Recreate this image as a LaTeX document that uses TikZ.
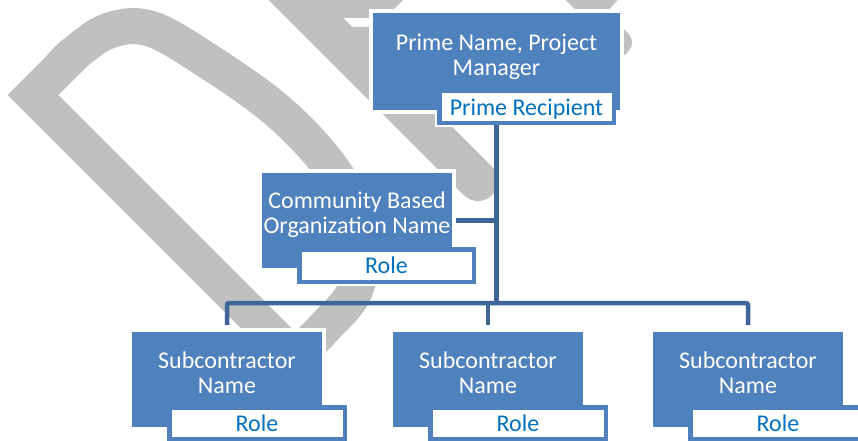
\documentclass[tikz,border=0pt]{standalone}
\usepackage{fontspec}
\setmainfont{Carlito}
\pgfdeclarelayer{mark}
\pgfdeclarelayer{halo}
\pgfdeclarelayer{links}
\pgfsetlayers{mark,halo,links,main}
\definecolor{boxblue}{RGB}{79,129,189}
\definecolor{linkblue}{RGB}{62,102,153}
\definecolor{rolecol}{RGB}{0,112,192}
\definecolor{markgrey}{RGB}{192,192,192}
\tikzset{
  orgbox/.style={fill=boxblue, draw=white, line width=4pt, inner sep=0pt, outer sep=0pt},
  rolebox/.style={fill=white, draw=boxblue, line width=4.5pt, inner sep=0pt, outer sep=0pt,
    text=rolecol, font=\fontsize{24}{25}\selectfont, text height=16.5pt, text depth=0pt},
  rolehalo/.style={draw=white, line width=8.5pt},
  nametext/.style={text=white, align=center, inner sep=0pt, anchor=north,
    font=\fontsize{24}{25}\selectfont},
  link/.style={draw=linkblue, line width=4.5pt, rounded corners=2pt},
  markstroke/.style={draw=markgrey, line width=36pt},
}
\begin{document}
\begin{tikzpicture}[x=1pt, y=-1pt]
\path[use as bounding box] (0,0) rectangle (858,441);

% grey watermark lettering
\begin{pgfonlayer}{mark}
  \fill[white] (0,0) rectangle (858,441);
  % letter D, stem and bowl
  \draw[markstroke, line join=miter] (295,357) -- (33,95) -- (75,53);
  \draw[markstroke] plot[smooth, tension=0.6] coordinates
    {(60,68) (75,53) (108,31) (148,28) (200,56) (280,113) (338,178)
     (360,240) (355,290) (325,327) (295,357)};
  % letter R, stem, bowl and leg
  \draw[markstroke, line width=40pt, line cap=round] (255,-42) -- (478,181);
  \fill[markgrey] (300,-10) -- (413,-10) -- (385,18) -- (337,18) -- cycle;
  \fill[markgrey] (330,27) -- (620,27) .. controls (636,36) and (636,49) .. (620,58)
    -- (330,58) -- cycle;
  \fill[markgrey] (545,-20) -- (635,-20) -- (607,12) -- (578,12) -- cycle;
\end{pgfonlayer}

% boxes
\node[orgbox, minimum width=251pt, minimum height=101pt] (prime) at (496.5,61.5) {};
\node[rolebox, minimum width=174.5pt, minimum height=31.5pt] (primerole) at (526.5,107) {Prime Recipient};
\node[nametext] (primename) at (496.5,32.5) {\strut Prime Name, Project\\\strut Manager};

\node[orgbox, minimum width=194pt, minimum height=99pt] (cbo) at (357,220.5) {};
\node[rolebox, minimum width=174.5pt, minimum height=32.5pt] (cborole) at (386.5,265.5) {Role};
\node[nametext] (cboname) at (357,190.5) {\strut Community Based\\\strut Organization Name};

\node[orgbox, minimum width=194pt, minimum height=99pt] (subA) at (227,379.5) {};
\node[rolebox, minimum width=175.5pt, minimum height=31.5pt] (subArole) at (257,423) {Role};
\node[nametext] (subAname) at (227,350.5) {\strut Subcontractor\\\strut Name};

\node[orgbox, minimum width=194pt, minimum height=99pt] (subB) at (488,379.5) {};
\node[rolebox, minimum width=175.5pt, minimum height=31.5pt] (subBrole) at (518,423) {Role};
\node[nametext] (subBname) at (488,350.5) {\strut Subcontractor\\\strut Name};

\node[orgbox, minimum width=194pt, minimum height=99pt] (subC) at (748,379.5) {};
\node[rolebox, minimum width=175.5pt, minimum height=31.5pt] (subCrole) at (778,423) {Role};
\node[nametext] (subCname) at (748,350.5) {\strut Subcontractor\\\strut Name};

% thin white rims round the role labels, kept under the boxes
\begin{pgfonlayer}{halo}
  \foreach \r in {primerole,cborole,subArole,subBrole,subCrole}
    \draw[rolehalo] (\r.south west) rectangle (\r.north east);
\end{pgfonlayer}

% connectors
\begin{pgfonlayer}{links}
  \coordinate (bar) at (496.5,303);
  \draw[link] (prime.south) -- (bar);
  \draw[link] (cbo.east) -- (cbo.east -| prime.south);
  \draw[link, shorten <=5pt, shorten >=5pt] (subA.north) -- (subA.north |- bar)
    -- (subC.north |- bar) -- (subC.north);
  \draw[link, shorten >=5pt] (subB.north |- bar) -- (subB.north);
\end{pgfonlayer}
\end{tikzpicture}
\end{document}
